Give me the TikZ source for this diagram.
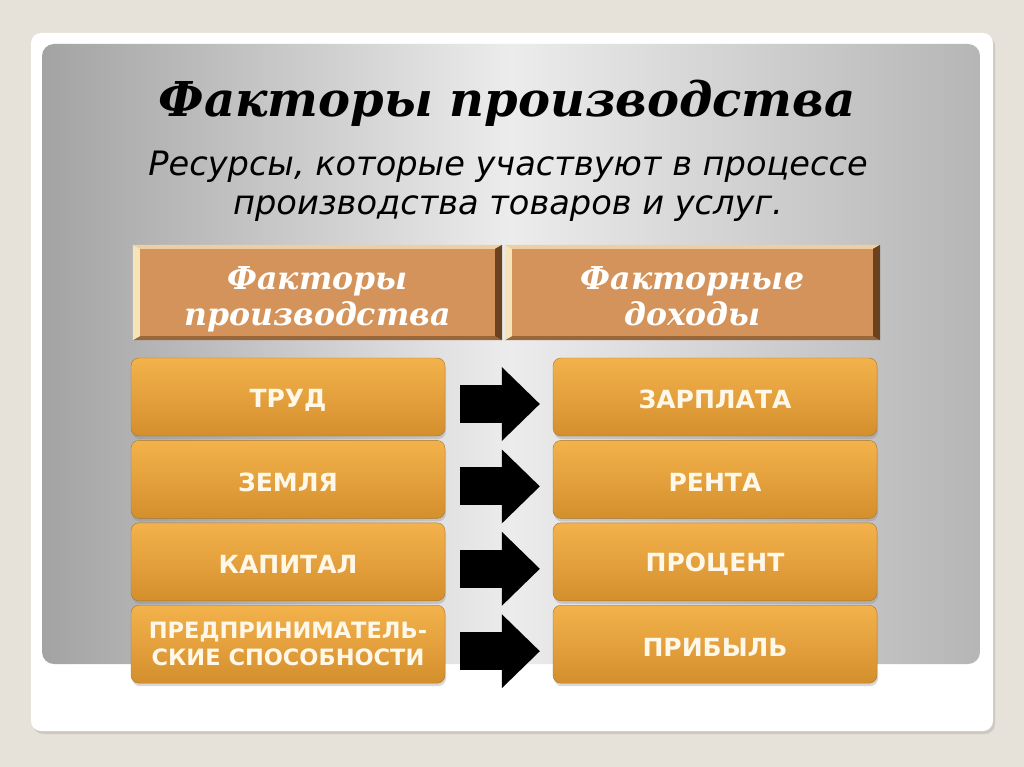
\documentclass[tikz,border=0pt]{standalone}
\usepackage{fontspec}
\setmainfont{DejaVu Sans}
\newfontfamily\serifbi{DejaVu Serif}
\usepackage{tikz}
\usetikzlibrary{arrows.meta,positioning,shadows}
\definecolor{pagewash}{HTML}{E6E2D9}
\definecolor{panelgray}{HTML}{A3A3A3}
\definecolor{panellight}{HTML}{ECECEC}
\definecolor{headbrown}{HTML}{D4935A}
\definecolor{bevellight}{HTML}{F7E3B9}
\definecolor{beveldark}{HTML}{6B4220}
\definecolor{ambertop}{HTML}{F3B24C}
\definecolor{amberbot}{HTML}{D48F2D}
\definecolor{amberline}{HTML}{A8742C}
\definecolor{creamtext}{HTML}{FFF7E8}

\begin{document}
\begin{tikzpicture}[
  x=1pt, y=-1pt,
  node distance=4pt,
  headbox/.style={fill=headbrown, minimum height=95pt, inner sep=0pt, align=center,
    text=white, text height=66pt, text depth=0pt, font=\serifbi\bfseries\itshape\fontsize{31.5}{36}\selectfont},
  amberbox/.style={draw=amberline, rounded corners=8pt, top color=ambertop, bottom color=amberbot,
    minimum height=78pt, inner sep=0pt, align=center, text=creamtext,
    font=\bfseries\fontsize{25}{28}\selectfont,
    drop shadow={opacity=0.3, shadow xshift=1pt, shadow yshift=-3pt}},
  oneline/.style={text height=24pt},
  blockarr/.style={line width=38pt, draw=black, shorten <=15pt, shorten >=13pt,
    -{Triangle[length=38pt, width=74pt, line width=0pt]}}
]
\useasboundingbox (0,0) rectangle (1024,767);
\fill[pagewash] (0,0) rectangle (1024,767);
% slide frame and grey panel
\fill[white, rounded corners=10pt, drop shadow={opacity=0.25, shadow xshift=2pt, shadow yshift=-3pt}]
  (31,33) rectangle (993,731);
\shade[rounded corners=12pt, left color=panelgray, right color=panelgray!80!white, middle color=panellight]
  (42,44) rectangle (980,664);

% title and subtitle
\node[font=\serifbi\bfseries\itshape\fontsize{48}{56}\selectfont] (title) at (507,103) {Факторы производства};
\node[align=center, font=\itshape\fontsize{33.6}{39}\selectfont] (sub) at (508,186)
  {Ресурсы, которые участвуют в процессе\\производства товаров и услуг.};

% column heads
\node[headbox, minimum width=369pt] (hfac) at (317.5,292.5) {Факторы\\производства};
\node[headbox, minimum width=375pt] (hinc) at (692.5,292.5) {Факторные\\доходы};
\foreach \h in {hfac,hinc} {
  \fill[bevellight!75!headbrown] (\h.north west) -- (\h.north east) -- ([xshift=-7pt,yshift=-4pt]\h.north east) -- ([xshift=7pt,yshift=-4pt]\h.north west) -- cycle;
  \fill[beveldark!55!headbrown] (\h.south west) -- (\h.south east) -- ([xshift=-7pt,yshift=4pt]\h.south east) -- ([xshift=7pt,yshift=4pt]\h.south west) -- cycle;
  \fill[bevellight] (\h.north west) -- (\h.south west) -- ([xshift=7pt,yshift=4pt]\h.south west) -- ([xshift=7pt,yshift=-4pt]\h.north west) -- cycle;
  \fill[beveldark] (\h.north east) -- (\h.south east) -- ([xshift=-7pt,yshift=4pt]\h.south east) -- ([xshift=-7pt,yshift=-4pt]\h.north east) -- cycle;
}

% factors
\node[amberbox, oneline, minimum width=314pt] (labour) at (288,397) {ТРУД};
\node[amberbox, oneline, minimum width=314pt, below=of labour] (land) {ЗЕМЛЯ};
\node[amberbox, oneline, minimum width=314pt, below=of land] (capital) {КАПИТАЛ};
\node[amberbox, minimum width=314pt, below=of capital, font=\bfseries\fontsize{22.5}{26.5}\selectfont] (enterprise) {ПРЕДПРИНИМАТЕЛЬ-\\СКИЕ СПОСОБНОСТИ};

% incomes
\node[amberbox, oneline, minimum width=324pt] (wage) at (715,397) {ЗАРПЛАТА};
\node[amberbox, oneline, minimum width=324pt, below=of wage] (rent) {РЕНТА};
\node[amberbox, oneline, minimum width=324pt, below=of rent] (interest) {ПРОЦЕНТ};
\node[amberbox, oneline, minimum width=324pt, below=of interest] (profit) {ПРИБЫЛЬ};

% arrows
\draw[blockarr] ([yshift=-7pt]labour.east) -- ([yshift=-7pt]wage.west);
\draw[blockarr] ([yshift=-7pt]land.east) -- ([yshift=-7pt]rent.west);
\draw[blockarr] ([yshift=-7pt]capital.east) -- ([yshift=-7pt]interest.west);
\draw[blockarr] ([yshift=-7pt]enterprise.east) -- ([yshift=-7pt]profit.west);
\end{tikzpicture}
\end{document}
